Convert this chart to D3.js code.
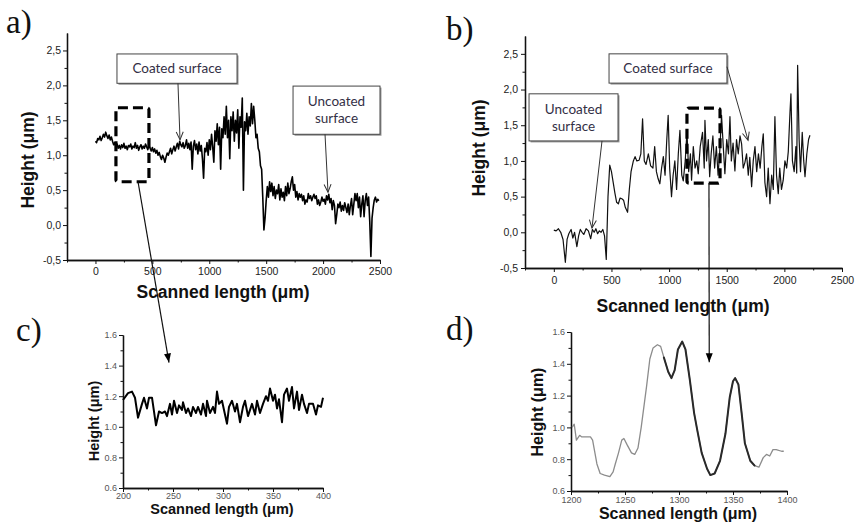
<!DOCTYPE html>
<html>
<head>
<meta charset="utf-8">
<script src="https://cdn.jsdelivr.net/npm/d3@7"></script>
<style>
  body { margin: 0; background: #fff; }
  svg { display: block; }
</style>
</head>
<body>
<div id="fig"></div>
<script>
// ---- data (heights in µm) ----

// a) profile sampled every 10 µm, starting at 0
const stepA = 10;
const heightA = [
  1.20,1.18,1.24,1.22,1.27,1.21,1.25,1.30,1.26,1.33,1.28,1.24,1.29,1.22,1.26,
  1.20,1.15,1.18,1.12,1.16,1.10,1.14,1.09,1.15,1.11,1.17,1.10,1.13,1.08,1.14,
  1.12,1.16,1.09,1.13,1.11,1.18,1.10,1.14,1.07,1.12,1.15,1.09,1.13,1.10,1.16,
  1.12,1.08,1.14,1.10,1.06,1.11,1.05,1.09,1.03,1.07,1.00,1.04,0.98,0.94,1.00,
  0.96,0.90,0.97,1.03,1.00,
  1.05,1.10,1.02,1.08,1.13,1.06,1.12,1.17,1.09,1.20,1.15,1.12,1.18,1.10,1.14,
  1.22,1.10,1.17,1.08,1.19,0.80,1.13,1.21,1.08,1.16,1.02,1.19,1.06,1.14,0.95,
  0.67,1.10,1.05,1.18,1.00,1.22,1.08,1.30,1.12,0.90,1.35,1.20,1.45,1.15,1.40,
  0.80,1.38,1.25,1.55,1.30,1.70,1.25,1.50,0.95,1.55,1.35,1.62,1.20,1.50,1.32,
  1.65,1.10,1.55,1.40,1.82,0.50,1.48,1.35,1.60,1.30,1.55,1.42,1.74,1.45,1.70,
  1.50,1.25,1.30,1.10,1.05,0.85,0.80,0.40,-0.07,0.10,
  0.35,0.55,0.40,0.62,0.48,0.60,0.42,0.55,0.38,0.50,
  0.45,0.58,0.36,0.52,0.40,0.47,0.35,0.55,0.42,0.60,
  0.45,0.52,0.62,0.69,0.50,0.58,0.40,0.48,0.36,0.45,
  0.40,0.44,0.35,0.42,0.30,0.36,0.33,0.45,0.38,0.42,
  0.35,0.40,0.44,0.38,0.42,0.30,0.36,0.28,0.33,0.40,
  0.34,0.37,0.30,0.42,0.36,0.44,0.32,0.38,0.22,0.35,
  0.28,0.02,0.15,0.30,0.25,0.33,0.20,0.28,0.21,0.32,
  0.25,0.18,0.30,0.15,0.28,0.38,0.15,0.30,0.45,0.35,
  0.45,0.25,0.40,0.12,0.30,0.42,0.12,0.35,0.45,0.28,
  0.40,0.05,-0.45,0.10,0.25,0.36,0.40,0.33,0.37,0.35
];

// b) profile as [scanned length, height]
const profileB = [
  [0,0.03],[20,0.02],[40,0.05],[60,0.0],[80,-0.1],[100,-0.42],[115,-0.1],[130,-0.02],
  [150,0.04],[165,-0.08],[180,0.0],[200,-0.2],[215,-0.05],[230,0.04],[245,0.0],[260,-0.03],
  [280,0.05],[300,0.02],[320,-0.09],[335,0.04],[350,0.0],[365,0.05],[380,-0.02],[395,0.02],
  [410,0.0],[425,0.04],[440,-0.05],[455,-0.38],[470,0.5],[485,0.94],[500,0.85],[515,0.7],
  [530,0.55],[545,0.42],[560,0.40],[575,0.48],[590,0.47],[605,0.45],[620,0.35],[640,0.28],
  [655,0.6],[670,0.85],[690,1.0],[705,1.06],[720,1.0],[740,1.01],[755,1.1],[770,1.59],
  [785,1.0],[800,0.95],[820,1.1],[840,0.93],[860,0.9],[875,1.2],[890,0.85],[905,0.75],
  [920,0.68],[935,0.9],[950,1.06],[965,0.8],[980,1.3],[992,1.64],[1005,0.9],[1021,0.5],
  [1035,0.8],[1050,1.0],[1065,0.6],[1080,1.1],[1094,1.43],[1110,0.8],[1123,0.72],[1140,1.0],
  [1155,1.41],[1170,0.85],[1185,1.1],[1195,0.73],[1210,1.2],[1225,0.9],[1240,1.0],[1253,0.82],
  [1270,1.2],[1290,1.4],[1305,0.9],[1311,1.57],[1325,1.0],[1340,1.3],[1352,0.78],[1365,1.1],
  [1380,1.35],[1395,0.9],[1410,1.2],[1425,0.8],[1440,1.15],[1455,1.64],[1470,1.2],[1484,0.82],
  [1500,1.3],[1515,1.1],[1528,1.62],[1540,1.0],[1555,1.25],[1571,0.86],[1585,1.3],[1600,1.1],
  [1615,1.35],[1629,1.24],[1643,0.9],[1658,0.98],[1672,1.1],[1687,0.8],[1700,1.05],[1716,0.64],
  [1730,1.0],[1745,1.2],[1760,0.85],[1775,1.1],[1790,0.9],[1805,1.2],[1817,1.38],[1831,0.7],
  [1846,0.5],[1860,0.9],[1875,0.4],[1890,0.8],[1904,0.6],[1918,1.62],[1932,0.8],[1947,0.54],
  [1960,0.9],[1975,0.6],[1990,0.73],[2005,1.0],[2020,0.9],[2034,1.13],[2049,1.69],[2057,1.94],
  [2070,1.0],[2085,0.85],[2100,1.2],[2107,0.83],[2115,2.34],[2128,1.3],[2140,0.85],[2155,1.4],
  [2168,1.0],[2179,0.78],[2195,1.1],[2210,1.3],[2222,1.36]
];

// c) zoom on the coated surface of a)
const profileC = [
  [200,1.175],[205,1.22],[209,1.23],[212,1.19],[215,1.06],[219,1.15],[221,1.19],[224,1.12],
  [226,1.19],[229,1.19],[233,1.01],[236,1.10],[239,1.09],[242,1.10],[244,1.07],[247,1.15],
  [249,1.08],[251,1.17],[254,1.09],[256,1.14],[259,1.11],[260,1.16],[263,1.09],[265,1.12],
  [268,1.07],[270,1.13],[273,1.09],[275,1.13],[278,1.08],[280,1.15],[283,1.07],[284,1.17],
  [287,1.09],[290,1.13],[292,1.09],[294,1.23],[296,1.15],[299,1.17],[301,1.11],[304,1.02],
  [306,1.13],[309,1.17],[312,1.10],[314,1.15],[317,1.03],[320,1.13],[322,1.17],[325,1.07],
  [329,1.15],[332,1.08],[334,1.17],[337,1.09],[340,1.15],[343,1.20],[345,1.17],[347,1.25],
  [350,1.17],[352,1.21],[354,1.12],[356,1.18],[359,1.03],[361,1.21],[364,1.25],[366,1.17],
  [369,1.26],[371,1.12],[374,1.23],[376,1.11],[379,1.21],[381,1.15],[384,1.09],[386,1.15],
  [390,1.15],[393,1.08],[395,1.14],[398,1.13],[400,1.19]
];

// d) zoom on the coated surface of b)
const profileD = [
  [1201,1.00],[1203,1.02],[1205,0.92],[1208,0.95],[1210,0.94],[1213,0.94],[1218,0.94],[1220,0.92],
  [1224,0.77],[1227,0.71],[1231,0.70],[1236,0.69],[1239,0.72],[1241,0.77],[1244,0.84],[1247,0.92],
  [1249,0.93],[1252,0.89],[1256,0.84],[1259,0.83],[1262,0.87],[1265,1.00],[1270,1.26],[1273,1.43],
  [1276,1.50],[1280,1.52],[1283,1.51],[1286,1.44],[1290,1.35],[1293,1.31],[1296,1.36],[1299,1.49],
  [1303,1.54],[1306,1.49],[1310,1.30],[1314,1.09],[1317,0.98],[1321,0.84],[1326,0.74],[1329,0.70],
  [1333,0.71],[1338,0.79],[1343,0.96],[1347,1.19],[1350,1.29],[1352,1.31],[1355,1.27],[1358,1.09],
  [1361,0.90],[1366,0.79],[1370,0.76],[1374,0.75],[1378,0.81],[1381,0.83],[1384,0.82],[1387,0.86],
  [1390,0.86],[1395,0.85],[1397,0.85]
];
// part of d) drawn with the darker, heavier stroke
const darkRangeD = [1286, 1372];

// ---- ticks ----
const xMajorAB = [0, 500, 1000, 1500, 2000, 2500];
const xMinorAB = [-250, 250, 750, 1250, 1750, 2250];
const yMajorAB = [-0.5, 0, 0.5, 1.0, 1.5, 2.0, 2.5];
const yMinorAB = [-0.25, 0.25, 0.75, 1.25, 1.75, 2.25];
const xMajorC = [200, 250, 300, 350, 400];
const xMinorC = [225, 275, 325, 375];
const xMajorD = [1200, 1250, 1300, 1350, 1400];
const xMinorD = [1225, 1275, 1325, 1375];
const yMajorCD = [0.6, 0.8, 1.0, 1.2, 1.4, 1.6];
const yMinorCD = [0.7, 0.9, 1.1, 1.3, 1.5];

const xTitle = "Scanned length (\u03bcm)";
const yTitle = "Height (\u03bcm)";

// ---- page ----
const W = 858, H = 522;
const SANS = "'Liberation Sans', Arial, sans-serif";
const svg = d3.select("#fig").append("svg").attr("width", W).attr("height", H);

const defs = svg.append("defs");
defs.append("marker")
  .attr("id", "openHead").attr("markerUnits", "userSpaceOnUse")
  .attr("viewBox", "-10 -6 12 12").attr("markerWidth", 12).attr("markerHeight", 12)
  .attr("refX", 0).attr("refY", 0).attr("orient", "auto")
  .append("path").attr("d", "M-8,-3.5L0,0L-8,3.5")
  .attr("fill", "none").attr("stroke", "#333").attr("stroke-width", 1);
defs.append("marker")
  .attr("id", "solidHead").attr("markerUnits", "userSpaceOnUse")
  .attr("viewBox", "-10 -6 12 12").attr("markerWidth", 12).attr("markerHeight", 12)
  .attr("refX", 0).attr("refY", 0).attr("orient", "auto")
  .append("path").attr("d", "M-9,-3.5L0,0L-9,3.5Z").attr("fill", "#000");

const commaFmt = d => (d < 0 ? "-" : "") + Math.abs(d).toFixed(1).replace(".", ",");

const panels = {
  a: { left: 67, right: 380, top: 33, bottom: 260, xDomain: [-250, 2500], yDomain: [-0.5, 2.75],
       xMajor: xMajorAB, xMinor: xMinorAB, yMajor: yMajorAB, yMinor: yMinorAB,
       xFmt: d3.format("d"), yFmt: commaFmt, tickFont: 10.5, tickColor: "#222",
       xPad: 4, yPad: 2, titleFont: 17.5,
       xTitlePos: [223, 298], yTitlePos: [34, 160], letter: ["a)", 6, 33] },
  b: { left: 525, right: 842, top: 36, bottom: 268, xDomain: [-250, 2500], yDomain: [-0.5, 2.75],
       xMajor: xMajorAB, xMinor: xMinorAB, yMajor: yMajorAB, yMinor: yMinorAB,
       xFmt: d3.format("d"), yFmt: commaFmt, tickFont: 10.5, tickColor: "#222",
       xPad: 5, yPad: 3, titleFont: 17.5,
       xTitlePos: [683, 312], yTitlePos: [485, 148], letter: ["b)", 446, 40] },
  c: { left: 123, right: 323, top: 335, bottom: 488, xDomain: [200, 400], yDomain: [0.6, 1.6],
       xMajor: xMajorC, xMinor: xMinorC, yMajor: yMajorCD, yMinor: yMinorCD,
       xFmt: d3.format("d"), yFmt: d3.format(".1f"), tickFont: 9, tickColor: "#555",
       xPad: 1, yPad: 2, titleFont: 14.5,
       xTitlePos: [222, 514], yTitlePos: [99, 421], letter: ["c)", 16, 341] },
  d: { left: 571, right: 787, top: 332, bottom: 491, xDomain: [1200, 1400], yDomain: [0.6, 1.6],
       xMajor: xMajorD, xMinor: xMinorD, yMajor: yMajorCD, yMinor: yMinorCD,
       xFmt: d3.format("d"), yFmt: d3.format(".1f"), tickFont: 9, tickColor: "#555",
       xPad: 2, yPad: 2, titleFont: 16,
       xTitlePos: [678, 519], yTitlePos: [543, 412], letter: ["d)", 446, 340] }
};

function drawPanel(p) {
  p.x = d3.scaleLinear().domain(p.xDomain).range([p.left, p.right]);
  p.y = d3.scaleLinear().domain(p.yDomain).range([p.bottom, p.top]);
  const g = svg.append("g");

  // minor ticks first, then major ticks with labels and the axis line
  g.append("g").attr("transform", `translate(0,${p.bottom})`)
    .call(d3.axisBottom(p.x).tickValues(p.xMinor).tickSize(2.5).tickSizeOuter(0).tickFormat(""));
  g.append("g").attr("transform", `translate(${p.left},0)`)
    .call(d3.axisLeft(p.y).tickValues(p.yMinor).tickSize(2.5).tickSizeOuter(0).tickFormat(""));
  g.append("g").attr("class", "xaxis").attr("transform", `translate(0,${p.bottom})`)
    .call(d3.axisBottom(p.x).tickValues(p.xMajor).tickSize(4).tickSizeOuter(0)
      .tickPadding(p.xPad).tickFormat(p.xFmt));
  g.append("g").attr("class", "yaxis").attr("transform", `translate(${p.left},0)`)
    .call(d3.axisLeft(p.y).tickValues(p.yMajor).tickSize(4).tickSizeOuter(0)
      .tickPadding(p.yPad).tickFormat(p.yFmt));

  g.selectAll(".domain").attr("stroke", "#111").attr("stroke-width", 1.3);
  g.selectAll(".tick line").attr("stroke", "#111");
  g.selectAll(".tick text").attr("font-family", SANS).attr("font-size", p.tickFont)
    .attr("fill", p.tickColor);

  g.append("text").attr("x", p.xTitlePos[0]).attr("y", p.xTitlePos[1])
    .attr("text-anchor", "middle").attr("font-family", SANS).attr("font-weight", "bold")
    .attr("font-size", p.titleFont).attr("fill", "#111").text(xTitle);
  g.append("text")
    .attr("transform", `translate(${p.yTitlePos[0]},${p.yTitlePos[1]}) rotate(-90)`)
    .attr("text-anchor", "middle").attr("font-family", SANS).attr("font-weight", "bold")
    .attr("font-size", p.titleFont).attr("fill", "#111").text(yTitle);

  svg.append("text").attr("x", p.letter[1]).attr("y", p.letter[2])
    .attr("font-family", "'Liberation Serif', 'Times New Roman', serif")
    .attr("font-size", 33).attr("fill", "#111").text(p.letter[0]);
  return g;
}

Object.values(panels).forEach(drawPanel);

const line = p => d3.line().x(d => p.x(d[0])).y(d => p.y(d[1]));

// traces
const A = panels.a, B = panels.b, C = panels.c, D = panels.d;
svg.append("path").datum(heightA.map((h, i) => [i * stepA, h]))
  .attr("d", line(A)).attr("fill", "none").attr("stroke", "#000")
  .attr("stroke-width", 1.6).attr("stroke-linejoin", "round");
svg.append("path").datum(profileB)
  .attr("d", line(B)).attr("fill", "none").attr("stroke", "#111")
  .attr("stroke-width", 1.2).attr("stroke-linejoin", "round");
svg.append("path").datum(profileC)
  .attr("d", line(C)).attr("fill", "none").attr("stroke", "#000")
  .attr("stroke-width", 2).attr("stroke-linejoin", "round");
svg.append("path").datum(profileD)
  .attr("d", line(D)).attr("fill", "none").attr("stroke", "#8c8c8c")
  .attr("stroke-width", 1.3).attr("stroke-linejoin", "round");
svg.append("path").datum(profileD.filter(d => d[0] >= darkRangeD[0] && d[0] <= darkRangeD[1]))
  .attr("d", line(D)).attr("fill", "none").attr("stroke", "#2a2a2a")
  .attr("stroke-width", 2).attr("stroke-linejoin", "round").attr("stroke-linecap", "round");

// ---- annotations (data units of the panel they sit in) ----
const labelBoxes = [
  { p: A, lines: ["Coated surface"], x0: 189, x1: 1244, y0: 2.45, y1: 2.03, from: [725, 2.03], to: [743, 1.22] },
  { p: A, lines: ["Uncoated", "surface"], x0: 1736, x1: 2500, y0: 1.99, y1: 1.30, from: [2017, 1.30], to: [2043, 0.47] },
  { p: B, lines: ["Uncoated", "surface"], x0: -215, x1: 557, y0: 1.94, y1: 1.28, from: [418, 1.28], to: [331, 0.06] },
  { p: B, lines: ["Coated surface"], x0: 479, x1: 1502, y0: 2.50, y1: 2.09, from: [1502, 2.32], to: [1685, 1.29] }
];
labelBoxes.forEach(n => {
  const x0 = n.p.x(n.x0), x1 = n.p.x(n.x1), y0 = n.p.y(n.y0), y1 = n.p.y(n.y1);
  svg.append("rect").attr("x", x0 + 1.5).attr("y", y0 + 1.5).attr("width", x1 - x0)
    .attr("height", y1 - y0).attr("fill", "#9a9a9a");
  svg.append("rect").attr("x", x0).attr("y", y0).attr("width", x1 - x0).attr("height", y1 - y0)
    .attr("fill", "#fff").attr("stroke", "#444").attr("stroke-width", 1);
  const cy = (y0 + y1) / 2, lh = 17;
  n.lines.forEach((t, i) => {
    svg.append("text").attr("x", (x0 + x1) / 2)
      .attr("y", cy + (i - (n.lines.length - 1) / 2) * lh)
      .attr("dy", "0.35em").attr("text-anchor", "middle")
      .attr("font-family", "Lato, 'Open Sans', sans-serif").attr("font-size", 13.5)
      .attr("fill", "#332f45").text(t);
  });
  svg.append("line")
    .attr("x1", n.p.x(n.from[0])).attr("y1", n.p.y(n.from[1]))
    .attr("x2", n.p.x(n.to[0])).attr("y2", n.p.y(n.to[1]))
    .attr("stroke", "#333").attr("stroke-width", 1).attr("marker-end", "url(#openHead)");
});

// dashed zoom windows and the connectors to the zoomed panels
const zoomWindows = [
  { p: A, x0: 180, x1: 470, y0: 1.68, y1: 0.62, from: [374, 0.62], target: C, to: [246, 1.42] },
  { p: B, x0: 1155, x1: 1442, y0: 1.74, y1: 0.69, from: [1346, 0.69], target: D, to: [1328, 1.41] }
];
zoomWindows.forEach(z => {
  const x0 = z.p.x(z.x0), x1 = z.p.x(z.x1), y0 = z.p.y(z.y0), y1 = z.p.y(z.y1);
  svg.append("rect").attr("x", x0).attr("y", y0).attr("width", x1 - x0).attr("height", y1 - y0)
    .attr("rx", 2).attr("fill", "none").attr("stroke", "#000").attr("stroke-width", 3.2)
    .attr("stroke-dasharray", "10,5");
  svg.append("line")
    .attr("x1", z.p.x(z.from[0])).attr("y1", z.p.y(z.from[1]))
    .attr("x2", z.target.x(z.to[0])).attr("y2", z.target.y(z.to[1]))
    .attr("stroke", "#111").attr("stroke-width", 1.2).attr("marker-end", "url(#solidHead)");
});
</script>
</body>
</html>
